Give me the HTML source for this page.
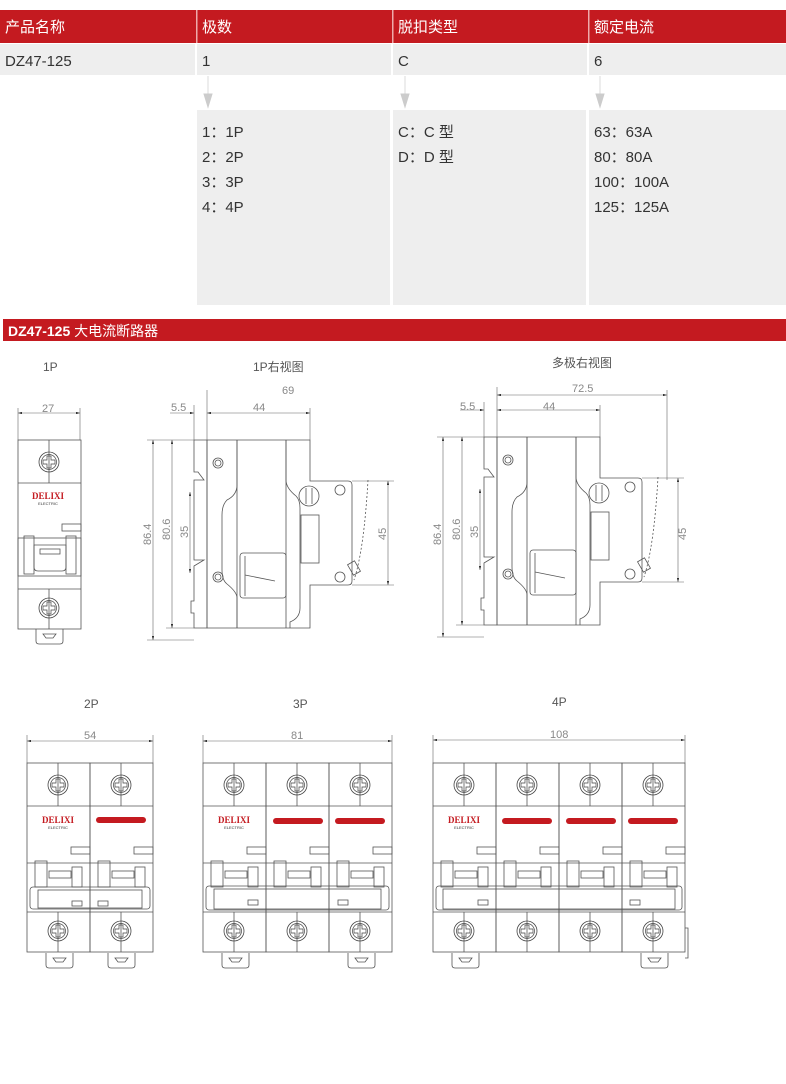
<!DOCTYPE html>
<html><head><meta charset="utf-8"><style>
body{margin:0;width:786px;height:1084px;background:#fff;overflow:hidden;font-family:"Liberation Sans","Noto Sans CJK SC",sans-serif}
svg{position:absolute;left:0;top:0}
.t{font-family:"Liberation Sans","Noto Sans CJK SC",sans-serif}
</style></head><body>
<svg width="786" height="1084" viewBox="0 0 786 1084" xmlns="http://www.w3.org/2000/svg">
<defs>
<marker id="ar" viewBox="0 0 10 6" refX="10" refY="3" markerWidth="8" markerHeight="4" orient="auto-start-reverse"><path d="M0,0L10,3L0,6z" fill="#333"/></marker>
<g id="screw"><circle r="10" fill="none" stroke="#444" stroke-width="0.8"/><circle r="7.5" fill="none" stroke="#444" stroke-width="0.7"/><path d="M-2,-6h4v4h4v4h-4v4h-4v-4h-4v-4h4z" fill="none" stroke="#444" stroke-width="0.7"/></g>
<g id="polebase" fill="none" stroke="#555" stroke-width="0.8">
<rect x="0" y="0" width="63" height="189"/>
<line x1="0" y1="43" x2="63" y2="43"/><line x1="0" y1="149" x2="63" y2="149"/>
<line x1="31" y1="0" x2="31" y2="43"/><line x1="31" y1="149" x2="31" y2="189"/>
<use href="#screw" x="31" y="22"/><use href="#screw" x="31" y="168"/>
<rect x="44" y="84" width="19" height="7"/>
</g>
<g id="pole" fill="none" stroke="#555" stroke-width="0.8">
<use href="#polebase"/>
<line x1="0" y1="100" x2="63" y2="100"/>
<rect x="8" y="98" width="12" height="26"/><rect x="45" y="104" width="10" height="20"/>
<rect x="22" y="108" width="22" height="7"/>
</g>
<g id="clip" fill="none" stroke="#555" stroke-width="0.8"><path d="M0,0v12q0,3 3,3h21q3,0 3,-3v-12"/><path d="M7,5h13l-3,4h-7z"/></g>
<g id="side" fill="none" stroke="#555" stroke-width="0.8">
<path d="M207,440h103v41h38q4,0 4,4v96q0,4 -4,4h-38v43h-103z"/>
<path d="M194,440h13v188h-13v-15h-3v-12h3v-35l10,-6h-10v-80h10l-6,-8h-4z"/>
<line x1="237" y1="440" x2="237" y2="628"/><line x1="286" y1="440" x2="286" y2="628"/>
<path d="M237,440v45q0,10 -10,15q-5,5 -5,15v55q0,10 5,14q10,8 10,14v30"/>
<path d="M286,440v40q0,8 10,16q4,4 4,12v100q0,10 -10,14v6"/>
<circle cx="218" cy="463" r="5"/><circle cx="218" cy="463" r="3"/>
<circle cx="218" cy="577" r="5"/><circle cx="218" cy="577" r="3"/>
<circle cx="309" cy="496" r="10"/><line x1="306" y1="488" x2="306" y2="504"/><line x1="312" y1="488" x2="312" y2="504"/>
<circle cx="340" cy="490" r="5"/><circle cx="340" cy="577" r="5"/>
<rect x="301" y="515" width="18" height="48"/>
<rect x="240" y="553" width="46" height="45" rx="3"/>
<path d="M245,556v40M245,575l30,6"/>
<rect x="350" y="562" width="8" height="12" transform="rotate(-30 354 568)"/>
<path d="M368,480q-4,70 -14,100" stroke-dasharray="2 2"/>
</g>
<g id="sidedims" fill="none" stroke="#666" stroke-width="0.6">
<line x1="153" y1="440" x2="153" y2="640" marker-start="url(#ar)" marker-end="url(#ar)"/>
<line x1="147" y1="440" x2="194" y2="440"/><line x1="147" y1="640" x2="194" y2="640"/>
<line x1="172" y1="440" x2="172" y2="628" marker-start="url(#ar)" marker-end="url(#ar)"/>
<line x1="166" y1="628" x2="194" y2="628"/>
<line x1="190" y1="492" x2="190" y2="573" marker-start="url(#ar)" marker-end="url(#ar)"/>
<line x1="388" y1="481" x2="388" y2="585" marker-start="url(#ar)" marker-end="url(#ar)"/>
<line x1="352" y1="481" x2="394" y2="481"/><line x1="352" y1="585" x2="394" y2="585"/>
<line x1="207" y1="390" x2="207" y2="440"/><line x1="194" y1="405" x2="194" y2="440"/>
<line x1="170" y1="413" x2="194" y2="413" marker-end="url(#ar)"/>
<line x1="207" y1="413" x2="310" y2="413" marker-start="url(#ar)" marker-end="url(#ar)"/>
<line x1="310" y1="408" x2="310" y2="440"/>
</g>
</defs>

<rect x="0" y="10" width="786" height="33" fill="#c41a20"/>
<rect x="196" y="10" width="1.5" height="33" fill="#eaa"/><rect x="392" y="10" width="1.5" height="33" fill="#eaa"/><rect x="588" y="10" width="1.5" height="33" fill="#eaa"/>
<g class="t" fill="#fff" font-size="15"><text x="5" y="32">产品名称</text><text x="202" y="32">极数</text><text x="398" y="32">脱扣类型</text><text x="594" y="32">额定电流</text></g>
<rect x="0" y="44" width="786" height="31" fill="#eee"/>
<rect x="195" y="44" width="2" height="31" fill="#fff"/><rect x="391" y="44" width="2" height="31" fill="#fff"/><rect x="587" y="44" width="2" height="31" fill="#fff"/>
<g class="t" fill="#333" font-size="15"><text x="5" y="66">DZ47-125</text><text x="202" y="66">1</text><text x="398" y="66">C</text><text x="594" y="66">6</text></g>
<g fill="#ccc" stroke="#ccc"><line x1="208" y1="76" x2="208" y2="100" stroke-width="0.7"/><path d="M204,94L208,107L212,94z"/>
<line x1="405" y1="76" x2="405" y2="100" stroke-width="0.7"/><path d="M401,94L405,107L409,94z"/>
<line x1="600" y1="76" x2="600" y2="100" stroke-width="0.7"/><path d="M596,94L600,107L604,94z"/></g>
<rect x="197" y="110" width="193" height="195" fill="#eee"/><rect x="393" y="110" width="193" height="195" fill="#eee"/><rect x="589" y="110" width="197" height="195" fill="#eee"/>
<g class="t" fill="#333" font-size="15">
<text x="202" y="137">1：1P</text><text x="202" y="162">2：2P</text><text x="202" y="187">3：3P</text><text x="202" y="212">4：4P</text>
<text x="398" y="137">C：C 型</text><text x="398" y="162">D：D 型</text>
<text x="594" y="137">63：63A</text><text x="594" y="162">80：80A</text><text x="594" y="187">100：100A</text><text x="594" y="212">125：125A</text></g>
<rect x="3" y="319" width="783" height="22" fill="#c41a20"/>
<text class="t" x="8" y="336" fill="#fff" font-size="14"><tspan font-weight="bold">DZ47-125</tspan> 大电流断路器</text>

<g class="t" fill="#555" font-size="12"><text x="43" y="371">1P</text><text x="253" y="371">1P右视图</text><text x="552" y="367">多极右视图</text>
<text x="84" y="708">2P</text><text x="293" y="708">3P</text><text x="552" y="706">4P</text></g>

<g fill="none" stroke="#666" stroke-width="0.6"><line x1="18" y1="413" x2="80" y2="413" marker-start="url(#ar)" marker-end="url(#ar)"/><line x1="18" y1="408" x2="18" y2="440"/><line x1="80" y1="408" x2="80" y2="440"/></g>
<text class="t" x="42" y="412" fill="#888" font-size="11">27</text>
<use href="#polebase" x="18" y="440"/>
<g fill="none" stroke="#555" stroke-width="0.8">
<rect x="18" y="538" width="63" height="38"/><rect x="24" y="536" width="10" height="38"/><rect x="66" y="536" width="10" height="38"/>
<path d="M34,545h32v22q0,4 -4,4h-24q-4,0 -4,-4z"/><rect x="40" y="549" width="20" height="5"/></g>
<use href="#clip" x="36" y="629"/>
<text x="48" y="499" text-anchor="middle" fill="#c41a20" font-size="9" font-weight="bold" font-family="Liberation Serif,serif">DELIXI</text>
<text x="48" y="505" text-anchor="middle" fill="#333" font-size="4">ELECTRIC</text>

<use href="#side"/><use href="#sidedims"/>
<g class="t" fill="#888" font-size="11"><text x="282" y="394">69</text><text x="171" y="411">5.5</text><text x="253" y="411">44</text>
<text transform="translate(151,545) rotate(-90)">86.4</text><text transform="translate(170,540) rotate(-90)">80.6</text><text transform="translate(188,538) rotate(-90)">35</text><text transform="translate(386,540) rotate(-90)">45</text></g>
<g transform="translate(290,-3)"><use href="#side"/><use href="#sidedims"/></g>
<g fill="none" stroke="#666" stroke-width="0.6"><line x1="497" y1="395" x2="667" y2="395" marker-start="url(#ar)" marker-end="url(#ar)"/><line x1="667" y1="390" x2="667" y2="480"/></g>
<g class="t" fill="#888" font-size="11"><text x="572" y="392">72.5</text><text x="460" y="410">5.5</text><text x="543" y="410">44</text>
<text transform="translate(441,545) rotate(-90)">86.4</text><text transform="translate(460,540) rotate(-90)">80.6</text><text transform="translate(478,538) rotate(-90)">35</text><text transform="translate(686,540) rotate(-90)">45</text></g>

<g fill="none" stroke="#666" stroke-width="0.6">
<line x1="27" y1="741" x2="153" y2="741" marker-start="url(#ar)" marker-end="url(#ar)"/><line x1="27" y1="735" x2="27" y2="763"/><line x1="153" y1="735" x2="153" y2="763"/>
<line x1="203" y1="741" x2="392" y2="741" marker-start="url(#ar)" marker-end="url(#ar)"/><line x1="203" y1="735" x2="203" y2="763"/><line x1="392" y1="735" x2="392" y2="763"/>
<line x1="433" y1="740" x2="685" y2="740" marker-start="url(#ar)" marker-end="url(#ar)"/><line x1="433" y1="735" x2="433" y2="763"/><line x1="685" y1="735" x2="685" y2="763"/></g>
<g class="t" fill="#888" font-size="11"><text x="84" y="739">54</text><text x="291" y="739">81</text><text x="550" y="738">108</text></g>

<use href="#pole" x="27" y="763"/><use href="#pole" x="90" y="763"/>
<use href="#pole" x="203" y="763"/><use href="#pole" x="266" y="763"/><use href="#pole" x="329" y="763"/>
<use href="#pole" x="433" y="763"/><use href="#pole" x="496" y="763"/><use href="#pole" x="559" y="763"/><use href="#pole" x="622" y="763"/>
<g fill="none" stroke="#555" stroke-width="0.8">
<rect x="30" y="887" width="120" height="22" rx="3"/><rect x="38" y="890" width="104" height="18"/><rect x="72" y="901" width="10" height="5"/><rect x="98" y="901" width="10" height="5"/>
<rect x="206" y="886" width="183" height="24" rx="3"/><rect x="214" y="889" width="167" height="20"/><rect x="248" y="900" width="10" height="5"/><rect x="338" y="900" width="10" height="5"/>
<rect x="436" y="886" width="246" height="24" rx="3"/><rect x="443" y="889" width="232" height="20"/><rect x="478" y="900" width="10" height="5"/><rect x="630" y="900" width="10" height="5"/>
<path d="M685,928h3v30h-3"/>
</g>
<use href="#clip" x="46" y="953"/><use href="#clip" x="108" y="953"/>
<use href="#clip" x="222" y="953"/><use href="#clip" x="348" y="953"/>
<use href="#clip" x="452" y="953"/><use href="#clip" x="641" y="953"/>
<g fill="#c41a20" font-family="Liberation Serif,serif" font-weight="bold" font-size="9" text-anchor="middle">
<text x="58" y="823">DELIXI</text><text x="234" y="823">DELIXI</text><text x="464" y="823">DELIXI</text></g>
<g fill="#333" font-size="4" text-anchor="middle" class="t"><text x="58" y="829">ELECTRIC</text><text x="234" y="829">ELECTRIC</text><text x="464" y="829">ELECTRIC</text></g>
<g fill="#c41a20"><rect x="96" y="817" width="50" height="6" rx="3"/>
<rect x="273" y="818" width="50" height="6" rx="3"/><rect x="335" y="818" width="50" height="6" rx="3"/>
<rect x="502" y="818" width="50" height="6" rx="3"/><rect x="566" y="818" width="50" height="6" rx="3"/><rect x="628" y="818" width="50" height="6" rx="3"/></g>
</svg>
</body></html>
